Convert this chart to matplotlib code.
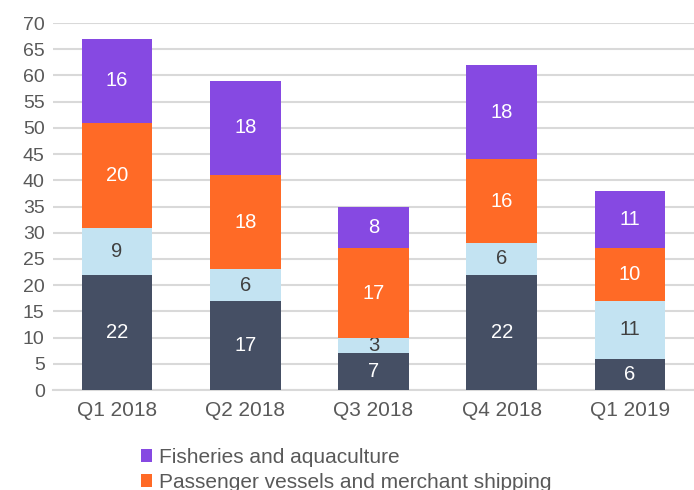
import matplotlib.pyplot as plt
import numpy as np

plt.rcParams['font.family'] = ['Liberation Sans', 'DejaVu Sans']

quarters = ['Q1 2018', 'Q2 2018', 'Q3 2018', 'Q4 2018', 'Q1 2019']
series_names = ['Other', 'Offshore', 'Passenger vessels and merchant shipping',
                'Fisheries and aquaculture']
other = [22, 17, 7, 22, 6]
offshore = [9, 6, 3, 6, 11]
passenger = [20, 18, 17, 16, 10]
fisheries = [16, 18, 8, 18, 11]

colors = ['#454f64', '#c3e3f2', '#ff6a26', '#8649e2']
label_colors = ['white', '#404040', 'white', 'white']
text_grey = '#595959'

fig = plt.figure(figsize=(6.94, 4.90), dpi=100)
ax = fig.add_axes([0.0764, 0.204, 0.9236, 0.749])

x = np.arange(len(quarters))
bottom = np.zeros(len(quarters))
bars = []
for vals, col, lc in zip([other, offshore, passenger, fisheries], colors, label_colors):
    b = ax.bar(x, vals, width=0.55, bottom=bottom, color=col, zorder=3)
    ax.bar_label(b, labels=[str(v) for v in vals], label_type='center',
                 color=lc, fontsize=14.5)
    bars.append(b)
    bottom += np.array(vals)

ax.set_xlim(-0.5, len(quarters) - 0.5)
ax.set_ylim(0, 70)
ax.set_yticks(range(0, 71, 5))
ax.set_xticks(x)
ax.set_xticklabels(quarters)
ax.tick_params(axis='x', length=0, labelsize=15, colors=text_grey, pad=8)
ax.tick_params(axis='y', length=0, labelsize=14, colors=text_grey, pad=6)

ax.grid(axis='y', color='#d9d9d9', linewidth=1.5, zorder=0)
for side in ['top', 'right', 'left']:
    ax.spines[side].set_visible(False)
ax.spines['bottom'].set_color('#d9d9d9')
ax.spines['bottom'].set_linewidth(1.5)

# legend lists the top series first
fig.legend([bars[3], bars[2]], [series_names[3], series_names[2]],
           loc='upper left', bbox_to_anchor=(0.203, 0.086), frameon=False,
           fontsize=15, labelcolor=text_grey, handlelength=0.55,
           handleheight=0.55, handletextpad=0.3, labelspacing=0.3,
           borderpad=0, borderaxespad=0)

fig.savefig('out.png', dpi=100)
